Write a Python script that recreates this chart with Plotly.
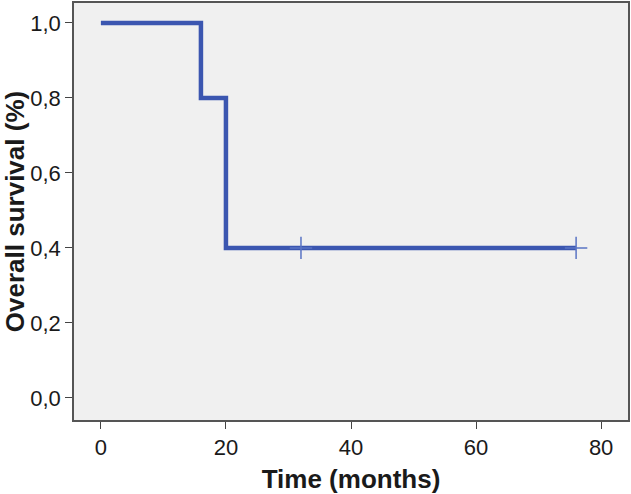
import plotly.graph_objects as go

# Kaplan-Meier step points
time_months = [0, 16, 20, 76]
survival = [1.0, 0.8, 0.4, 0.4]

# censored observations
censor_time = [32, 76]
censor_surv = [0.4, 0.4]

x_ticks = [0, 20, 40, 60, 80]
y_ticks = [0.0, 0.2, 0.4, 0.6, 0.8, 1.0]
y_labels = ["0,0", "0,2", "0,4", "0,6", "0,8", "1,0"]

fig = go.Figure()
fig.add_trace(go.Scatter(x=time_months, y=survival, mode='lines',
                         line=dict(color='#3B56B0', width=4.5, shape='hv'),
                         showlegend=False))
fig.add_trace(go.Scatter(x=censor_time, y=censor_surv, mode='markers',
                         marker=dict(symbol='cross-thin', size=16,
                                     line=dict(color='#5A74C4', width=1.5)),
                         showlegend=False))

fig.update_layout(
    width=631, height=494,
    margin=dict(l=74, r=3, t=3, b=74),
    plot_bgcolor='#F0F0F0', paper_bgcolor='white',
    font=dict(family='Liberation Sans, Arial', size=22, color='#1a1a1a'),
)
fig.update_xaxes(range=[-4.3, 84.3], tickvals=x_ticks, ticks='outside', ticklen=7,
                 tickcolor='#444', showline=True, linecolor='#555', linewidth=1.5,
                 mirror=True, showgrid=False, zeroline=False, automargin=False,
                 title=dict(text='<b>Time (months)</b>', font=dict(size=26), standoff=14))
fig.update_yaxes(range=[-0.059, 1.053], tickvals=y_ticks, ticktext=y_labels,
                 ticks='outside', ticklen=7, tickcolor='#444', showline=True,
                 linecolor='#555', linewidth=1.5, mirror=True, showgrid=False,
                 zeroline=False, automargin=False,
                 title=dict(text='<b>Overall survival (%)</b>', font=dict(size=26), standoff=6))

# page body has a default margin; remove it so the figure sits at the corner
fig.write_html("out.html", config={'displayModeBar': False},
               post_script="document.body.style.margin='0';")
